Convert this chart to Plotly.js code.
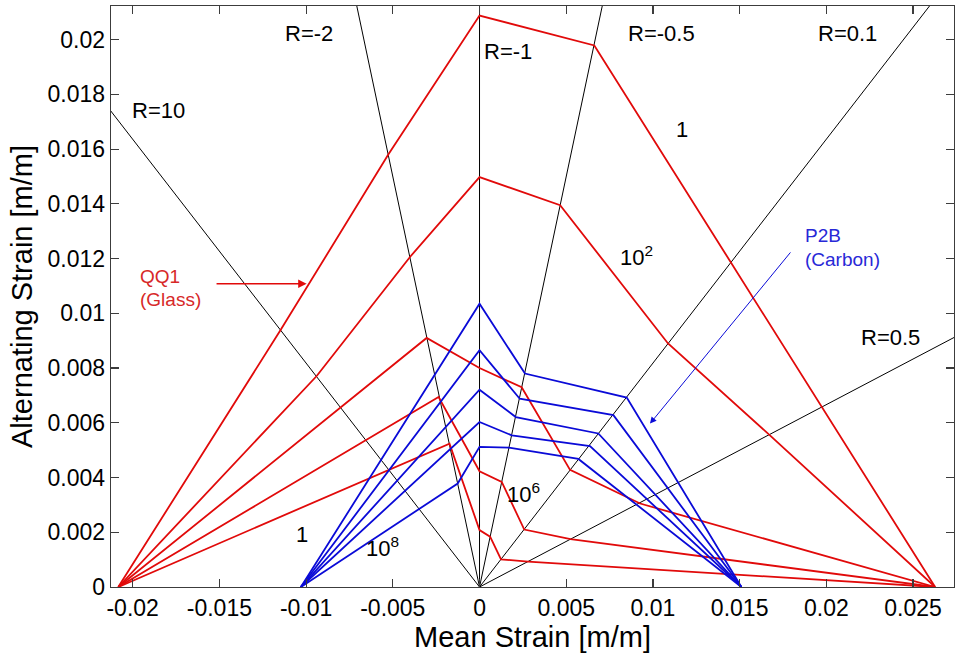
<!DOCTYPE html>
<html>
<head>
<meta charset="utf-8">
<script src="https://cdn.plot.ly/plotly-3.0.1.min.js"></script>
<style>
  html, body { margin: 0; padding: 0; background: #ffffff; }
  #chart { width: 955px; height: 658px; }
</style>
</head>
<body>
<div id="chart"></div>
<script>
// ---------- Data ----------
// Constant R-ratio lines (through the origin); end points of each ray
const rLineNames = ['R=10', 'R=-2', 'R=-1', 'R=-0.5', 'R=0.1', 'R=0.5'];
const rLineEndX = [-0.0260, -0.0075, 0, 0.0075, 0.0275, 0.0280];
const rLineEndY = [0.02127, 0.0225, 0.0225, 0.0225, 0.0225, 0.00933];

// QQ1 (Glass) constant-life curves, red
const qq1Names = ['QQ1 N=1', 'QQ1 N=1e2', 'QQ1 N=1e4', 'QQ1 N=1e6', 'QQ1 N=1e8'];
const qq1X_1   = [-0.02083, -0.01149, -0.00526, 0, 0.00662, 0.01454, 0.01974, 0.02627];
const qq1Y_1   = [0, 0.00937, 0.0158, 0.02088, 0.01979, 0.01181, 0.00658, 0];
const qq1X_1e2 = [-0.02083, -0.00939, -0.00401, 0, 0.00465, 0.01087, 0.0167, 0.02627];
const qq1Y_1e2 = [0, 0.00771, 0.01206, 0.01498, 0.01395, 0.0089, 0.00557, 0];
const qq1X_1e4 = [-0.02083, -0.00802, -0.00305, 0, 0.00243, 0.00522, 0.00926, 0.02627];
const qq1Y_1e4 = [0, 0.00656, 0.0091, 0.0080, 0.0073, 0.00428, 0.00305, 0];
const qq1X_1e6 = [-0.02083, -0.00656, -0.00236, 0, 0.00128, 0.00258, 0.00525, 0.02627];
const qq1Y_1e6 = [0, 0.00536, 0.00694, 0.00423, 0.00384, 0.0021, 0.00175, 0];
const qq1X_1e8 = [-0.02083, -0.00523, -0.00173, 0, 0.00061, 0.00124, 0.0028, 0.02627];
const qq1Y_1e8 = [0, 0.00428, 0.00524, 0.00208, 0.00184, 0.00101, 0.00093, 0];

// P2B (Carbon) constant-life curves, blue
const p2bNames = ['P2B N=1', 'P2B N=1e2', 'P2B N=1e4', 'P2B N=1e6', 'P2B N=1e8'];
const p2bX_1   = [-0.0103, 0, 0.00262, 0.00849, 0.0151];
const p2bY_1   = [0, 0.01035, 0.0078, 0.00692, 0];
const p2bX_1e2 = [-0.0103, 0, 0.00232, 0.00772, 0.0151];
const p2bY_1e2 = [0, 0.00865, 0.00688, 0.00628, 0];
const p2bX_1e4 = [-0.0103, 0, 0.00209, 0.00685, 0.0151];
const p2bY_1e4 = [0, 0.00721, 0.00621, 0.00561, 0];
const p2bX_1e6 = [-0.0103, 0, 0.00186, 0.00637, 0.0151];
const p2bY_1e6 = [0, 0.00603, 0.00554, 0.00515, 0];
const p2bX_1e8 = [-0.0103, -0.00126, 0, 0.0017, 0.0057, 0.0151];
const p2bY_1e8 = [0, 0.00378, 0.00512, 0.00509, 0.00468, 0];

// Axis ticks
const xTickVals = [-0.02, -0.015, -0.01, -0.005, 0, 0.005, 0.01, 0.015, 0.02, 0.025];
const xTickText = ['-0.02', '-0.015', '-0.01', '-0.005', '0', '0.005', '0.01', '0.015', '0.02', '0.025'];
const yTickVals = [0, 0.002, 0.004, 0.006, 0.008, 0.01, 0.012, 0.014, 0.016, 0.018, 0.02];
const yTickText = ['0', '0.002', '0.004', '0.006', '0.008', '0.01', '0.012', '0.014', '0.016', '0.018', '0.02'];

// ---------- Traces ----------
const FONT = 'Liberation Sans, Arial, Helvetica, sans-serif';
const RED = 'rgb(225,10,10)';
const BLUE = 'rgb(10,10,215)';
const traces = [];

rLineNames.forEach((nm, i) => {
  traces.push({
    type: 'scatter', mode: 'lines', name: nm,
    x: [0, rLineEndX[i]], y: [0, rLineEndY[i]],
    line: { color: '#000000', width: 1 },
    hoverinfo: 'skip', showlegend: false
  });
});

const qq1Xs = [qq1X_1, qq1X_1e2, qq1X_1e4, qq1X_1e6, qq1X_1e8];
const qq1Ys = [qq1Y_1, qq1Y_1e2, qq1Y_1e4, qq1Y_1e6, qq1Y_1e8];
qq1Names.forEach((nm, i) => {
  traces.push({
    type: 'scatter', mode: 'lines', name: nm,
    x: qq1Xs[i], y: qq1Ys[i],
    line: { color: RED, width: 1.8 },
    showlegend: false
  });
});

const p2bXs = [p2bX_1, p2bX_1e2, p2bX_1e4, p2bX_1e6, p2bX_1e8];
const p2bYs = [p2bY_1, p2bY_1e2, p2bY_1e4, p2bY_1e6, p2bY_1e8];
p2bNames.forEach((nm, i) => {
  traces.push({
    type: 'scatter', mode: 'lines', name: nm,
    x: p2bXs[i], y: p2bYs[i],
    line: { color: BLUE, width: 1.8 },
    showlegend: false
  });
});

// ---------- Annotations ----------
function label(text, x, y, opts) {
  return Object.assign({
    text: text, x: x, y: y, xref: 'x', yref: 'y',
    showarrow: false, xanchor: 'center', yanchor: 'middle',
    font: { family: FONT, size: 22, color: '#000000' }
  }, opts || {});
}
const redNote = { family: FONT, size: 19, color: 'rgb(215,40,40)' };
const blueNote = { family: FONT, size: 19, color: 'rgb(40,40,215)' };

const annotations = [
  label('R=-2', -0.00983, 0.02022),
  label('R=10', -0.01854, 0.01740),
  label('R=-1', 0.00164, 0.01958),
  label('R=-0.5', 0.01052, 0.02022),
  label('R=0.1', 0.0212, 0.02022),
  label('R=0.5', 0.02367, 0.00910),
  label('1', 0.01168, 0.01670),
  label('10<sup>2</sup>', 0.00903, 0.0121),
  label('10<sup>6</sup>', 0.00251, 0.00345),
  label('1', -0.01024, 0.00192),
  label('10<sup>8</sup>', -0.00557, 0.00148),
  label('QQ1', -0.0197, 0.01136, { xanchor: 'left', font: redNote }),
  label('(Glass)', -0.0197, 0.01050, { xanchor: 'left', font: redNote }),
  label('P2B', 0.01865, 0.01284, { xanchor: 'left', font: blueNote }),
  label('(Carbon)', 0.01865, 0.01197, { xanchor: 'left', font: blueNote }),
  // pointer arrows
  { text: '', x: -0.00997, y: 0.01108, ax: -0.01525, ay: 0.01108, xref: 'x', yref: 'y', axref: 'x', ayref: 'y',
    showarrow: true, arrowhead: 2, arrowsize: 1.3, arrowwidth: 1.3, arrowcolor: RED, standoff: 0 },
  { text: '', x: 0.00983, y: 0.00597, ax: 0.0180, ay: 0.01228, xref: 'x', yref: 'y', axref: 'x', ayref: 'y',
    showarrow: true, arrowhead: 2, arrowsize: 1.3, arrowwidth: 1, arrowcolor: BLUE, standoff: 0 }
];

// ---------- Layout ----------
const axisCommon = {
  showline: true, linecolor: '#3c3c3c', linewidth: 1.3, mirror: 'ticks',
  ticks: 'inside', ticklen: 8, tickcolor: '#3c3c3c', tickwidth: 1.2,
  showgrid: false, zeroline: false,
  tickfont: { family: FONT, size: 23, color: '#000000' }
};

const layout = {
  width: 955, height: 658,
  margin: { l: 111, r: 1, t: 6, b: 71 },
  paper_bgcolor: '#ffffff', plot_bgcolor: '#ffffff',
  showlegend: false,
  xaxis: Object.assign({}, axisCommon, {
    range: [-0.02125, 0.02736],
    tickmode: 'array', tickvals: xTickVals, ticktext: xTickText,
    ticklabelstandoff: 0,
    title: { text: 'Mean Strain [m/m]', font: { family: FONT, size: 29, color: '#000000' }, standoff: 4 }
  }),
  yaxis: Object.assign({}, axisCommon, {
    range: [0, 0.02123],
    tickmode: 'array', tickvals: yTickVals, ticktext: yTickText,
    title: { text: 'Alternating Strain [m/m]', font: { family: FONT, size: 29, color: '#000000' }, standoff: 6 }
  }),
  annotations: annotations
};

Plotly.newPlot('chart', traces, layout, { staticPlot: true, displayModeBar: false });
</script>
</body>
</html>
